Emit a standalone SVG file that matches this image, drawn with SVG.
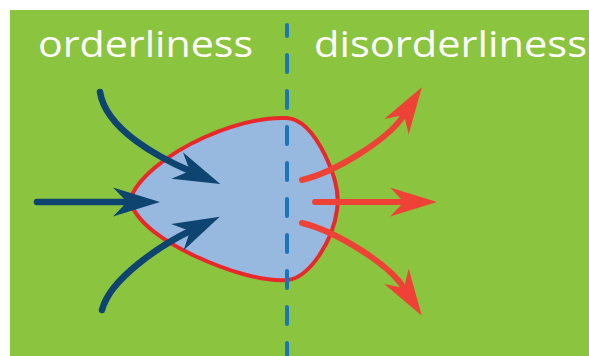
<svg xmlns="http://www.w3.org/2000/svg" width="589" height="356" viewBox="0 0 589 356">
  <style>
    .label { font-family: "Open Sans", "Liberation Sans", sans-serif; font-size: 36px; fill: #ffffff; }
    .blue { fill: none; stroke: #0E4470; stroke-width: 6.5; stroke-linecap: round; }
    .red { fill: none; stroke: #EE4237; stroke-width: 6; stroke-linecap: round; }
    .divider { fill: none; stroke: #1B75BB; stroke-width: 4; stroke-linecap: round; stroke-dasharray: 17 19; stroke-dashoffset: 6; }
  </style>
  <defs>
    <marker id="headBlue" markerUnits="userSpaceOnUse" viewBox="-2 -18 52 36" markerWidth="52" markerHeight="36" refX="14" refY="0" orient="auto">
      <path d="M47,0 L0,-14.5 L14,0 L0,14.5 Z" fill="#0E4470"/>
    </marker>
    <marker id="headRed" markerUnits="userSpaceOnUse" viewBox="-2 -18 52 36" markerWidth="52" markerHeight="36" refX="14" refY="0" orient="auto">
      <path d="M47,0 L0,-14.5 L14,0 L0,14.5 Z" fill="#EE4237"/>
    </marker>
  </defs>

  <rect x="0" y="0" width="589" height="356" fill="#ffffff"/>
  <rect id="background" x="10" y="10" width="579" height="346" fill="#8BC43F"/>

  <g id="label-orderliness">
    <text class="label" x="38" y="57" textLength="215" lengthAdjust="spacingAndGlyphs">orderliness</text>
  </g>
  <g id="label-disorderliness">
    <text class="label" x="314" y="57" textLength="273" lengthAdjust="spacingAndGlyphs">disorderliness</text>
  </g>

  <g id="system">
    <path d="M130,200 C136,180 165,155 205,137 C235,124 265,117 287,118 C303,119 315,135 325,155 C333,172 340,190 337,210 C333,240 310,278 287,280 C262,282 225,270 195,256 C165,242 135,222 130,200 Z" fill="#97B9DF" stroke="#E8282B" stroke-width="4"/>
  </g>

  <g id="divider">
    <line class="divider" x1="287" y1="25" x2="287" y2="360"/>
  </g>

  <g id="connectors">
    <path class="blue" d="M100,92 C106,130 160,158 190,171" marker-end="url(#headBlue)"/>
    <path class="blue" d="M37,202 L127,202" marker-end="url(#headBlue)"/>
    <path class="blue" d="M102,310 C110,278 163,244 190,231" marker-end="url(#headBlue)"/>
    <path class="red" d="M302,180 C335,172 388,140 404,115" marker-end="url(#headRed)"/>
    <path class="red" d="M315,202 L404,202" marker-end="url(#headRed)"/>
    <path class="red" d="M302,223 C335,231 388,263 404,288" marker-end="url(#headRed)"/>
  </g>
</svg>
